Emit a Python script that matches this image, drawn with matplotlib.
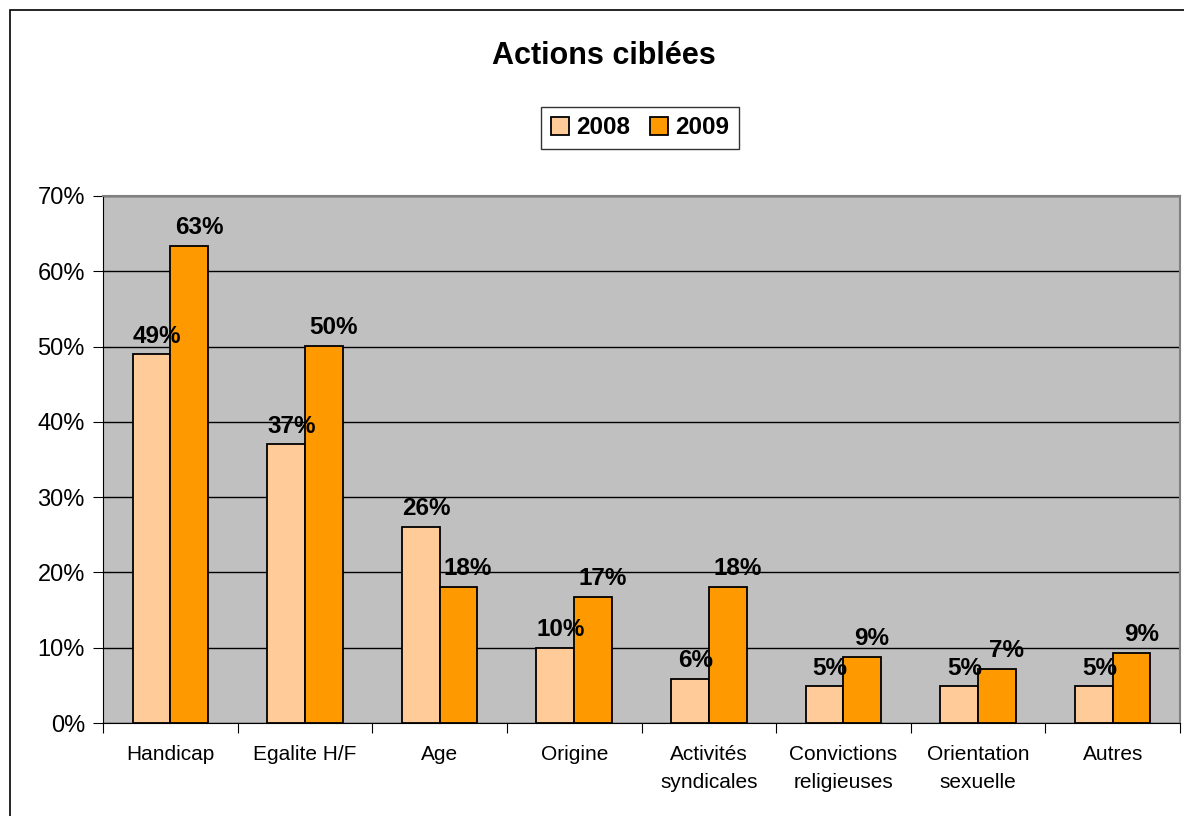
import numpy as np
import matplotlib.pyplot as plt
from matplotlib.patches import Rectangle

plt.rcParams['font.family'] = ['Liberation Sans', 'DejaVu Sans']

categories = ['Handicap', 'Egalite H/F', 'Age', 'Origine', 'Activités\nsyndicales',
              'Convictions\nreligieuses', 'Orientation\nsexuelle', 'Autres']
v2008 = [49.0, 37.0, 26.1, 10.0, 5.9, 4.9, 4.9, 4.9]
v2009 = [63.3, 50.1, 18.1, 16.8, 18.1, 8.8, 7.2, 9.3]
lab2008 = ['49%', '37%', '26%', '10%', '6%', '5%', '5%', '5%']
lab2009 = ['63%', '50%', '18%', '17%', '18%', '9%', '7%', '9%']

fig = plt.figure(figsize=(11.84, 8.16), dpi=100)
# cadre du graphique
fig.patches.append(Rectangle((10/1184, -0.01), 1.1, 1 - 10/816 + 0.01, transform=fig.transFigure,
                             fill=False, edgecolor='black', linewidth=1.2))

ax = fig.add_axes([103/1184, 1 - 723/816, 1077/1184, 527/816])
ax.set_facecolor('#C0C0C0')

x = np.arange(len(categories))
w = 0.28
ax.bar(x - w/2, v2008, w, color='#FFCC99', edgecolor='black', linewidth=1.3, label='2008', zorder=3)
ax.bar(x + w/2, v2009, w, color='#FF9900', edgecolor='black', linewidth=1.3, label='2009', zorder=3)

for i in range(len(categories)):
    ax.annotate(lab2008[i], (x[i] - w/2, v2008[i]), xytext=(4, 4.5), textcoords='offset points',
                ha='center', va='bottom', fontsize=17.5, fontweight='bold', zorder=4)
    ax.annotate(lab2009[i], (x[i] + w/2, v2009[i]), xytext=(7, 5), textcoords='offset points',
                ha='center', va='bottom', fontsize=17.5, fontweight='bold', zorder=4)

ax.set_xlim(-0.5, len(categories) - 0.5)
ax.set_ylim(0, 70)
ax.set_yticks(range(0, 71, 10))
ax.set_yticklabels([f'{t}%' for t in range(0, 71, 10)], fontsize=17)
ax.yaxis.grid(True, color='black', linewidth=1, zorder=1)
ax.set_axisbelow(True)

ax.set_xticks(np.arange(-0.5, len(categories), 1))
ax.set_xticklabels([])
ax.set_xticks(x, minor=True)
ax.set_xticklabels(categories, minor=True, fontsize=15, linespacing=1.6)
ax.tick_params(axis='x', which='minor', length=0, pad=16)
ax.tick_params(axis='x', which='major', length=7, direction='out', color='black')
ax.tick_params(axis='y', length=7, direction='out', pad=6)

for s in ['top', 'right']:
    ax.spines[s].set_color('#808080')
    ax.spines[s].set_linewidth(1.5)
ax.spines['left'].set_color('black')
ax.spines['bottom'].set_color('black')

fig.text(604/1184, 1 - 56/816, 'Actions ciblées', ha='center', va='center',
         fontsize=22, fontweight='bold')

leg = fig.legend(loc='center', bbox_to_anchor=(640/1184, 1 - 128/816), ncol=2,
                 prop={'weight': 'bold', 'size': 17.5}, frameon=True, fancybox=False,
                 edgecolor='black', handlelength=0.75, handleheight=0.75, handletextpad=0.3,
                 columnspacing=0.8, borderpad=0.4)
leg.get_frame().set_linewidth(1.0)

fig.savefig('out.png', dpi=100)
